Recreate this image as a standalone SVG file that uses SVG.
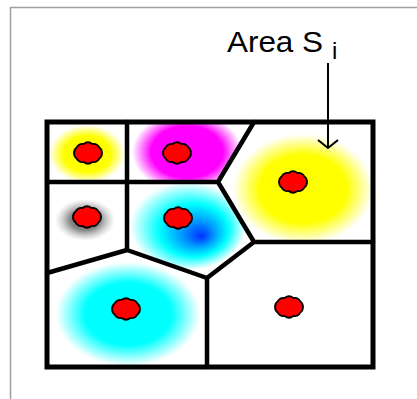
<svg xmlns="http://www.w3.org/2000/svg" width="417" height="399" viewBox="0 0 417 399">
<style>
.frame{fill:none;stroke:#a0a0a0;stroke-width:1.5}
.cellline{fill:none;stroke:#000;stroke-width:4.5;stroke-linejoin:round;stroke-linecap:round}
.outer{fill:none;stroke:#000;stroke-width:5}
.dot{fill:#ff0000;stroke:#000;stroke-width:1.8}
.label{font-family:"Liberation Sans",Arial,sans-serif;fill:#000}
.arrow{fill:none;stroke:#000;stroke-width:2}
</style>
<defs>
<path id="dotshape" d="M14,0 A7,7 0 0 1 11.33,5.59 A7,7 0 0 1 4.33,9.03 A7,7 0 0 1 -4.33,9.03 A7,7 0 0 1 -11.33,5.59 A7,7 0 0 1 -14,0 A7,7 0 0 1 -11.33,-5.59 A7,7 0 0 1 -4.33,-9.03 A7,7 0 0 1 4.33,-9.03 A7,7 0 0 1 11.33,-5.59 A7,7 0 0 1 14,0 Z"/>
<radialGradient id="gYellow">
<stop offset="0" stop-color="#ffff00"/>
<stop offset="0.62" stop-color="#ffff00"/>
<stop offset="1" stop-color="#ffff00" stop-opacity="0"/>
</radialGradient>
<radialGradient id="gMagenta">
<stop offset="0" stop-color="#ff00ff"/>
<stop offset="0.65" stop-color="#ff00ff"/>
<stop offset="1" stop-color="#ff00ff" stop-opacity="0"/>
</radialGradient>
<radialGradient id="gCyan">
<stop offset="0" stop-color="#00ffff"/>
<stop offset="0.6" stop-color="#00ffff"/>
<stop offset="1" stop-color="#00ffff" stop-opacity="0"/>
</radialGradient>
<radialGradient id="gBlue" fx="0.62" fy="0.62">
<stop offset="0" stop-color="#0030ff"/>
<stop offset="0.3" stop-color="#00a0ff"/>
<stop offset="0.6" stop-color="#00ffff"/>
<stop offset="1" stop-color="#00ffff" stop-opacity="0"/>
</radialGradient>
<radialGradient id="gGray">
<stop offset="0" stop-color="#555555"/>
<stop offset="0.5" stop-color="#888888"/>
<stop offset="1" stop-color="#bbbbbb" stop-opacity="0"/>
</radialGradient>
<clipPath id="cA"><polygon points="47,122 127,122 127,182 47,182"/></clipPath>
<clipPath id="cB"><polygon points="127,122 254,122 218,182 127,182"/></clipPath>
<clipPath id="cC"><polygon points="254,122 373,122 373,242 254,242 218,182"/></clipPath>
<clipPath id="cD"><polygon points="47,182 127,182 127,250 47,273"/></clipPath>
<clipPath id="cE"><polygon points="127,182 218,182 254,242 207,278 127,250"/></clipPath>
<clipPath id="cF"><polygon points="47,273 127,250 207,278 207,367 47,367"/></clipPath>
</defs>
<rect x="0" y="0" width="417" height="399" fill="#fff"/>
<path class="frame" d="M10.5,399 V7.5 H417"/>

<g id="cell-a">
<ellipse cx="87" cy="154" rx="38" ry="29" fill="url(#gYellow)" clip-path="url(#cA)"/>
<use href="#dotshape" class="dot" transform="translate(88,153)"/>
</g>
<g id="cell-b">
<ellipse cx="187" cy="152" rx="55" ry="40" fill="url(#gMagenta)" clip-path="url(#cB)"/>
<use href="#dotshape" class="dot" transform="translate(177,153)"/>
</g>
<g id="cell-c">
<ellipse cx="303" cy="189" rx="70" ry="55" fill="url(#gYellow)" clip-path="url(#cC)"/>
<use href="#dotshape" class="dot" transform="translate(293,182)"/>
</g>
<g id="cell-d">
<ellipse cx="85" cy="220" rx="30" ry="21" fill="url(#gGray)" clip-path="url(#cD)"/>
<use href="#dotshape" class="dot" transform="translate(87,217)"/>
</g>
<g id="cell-e">
<ellipse cx="188" cy="226" rx="58" ry="44" fill="url(#gBlue)" clip-path="url(#cE)"/>
<use href="#dotshape" class="dot" transform="translate(178,218)"/>
</g>
<g id="cell-f">
<ellipse cx="128" cy="314" rx="72" ry="52" fill="url(#gCyan)" clip-path="url(#cF)"/>
<use href="#dotshape" class="dot" transform="translate(126,309)"/>
</g>
<g id="cell-g">
<use href="#dotshape" class="dot" transform="translate(289,307)"/>
</g>

<g id="connectors">
<path class="cellline" d="M127,122 V250 M47,182 H218 M254,122 L218,182 L254,242 H373 M254,242 L207,278 V367 M47,273 L127,250 L207,278"/>
<rect class="outer" x="47" y="122" width="326" height="245"/>
<path class="arrow" d="M328,63 V148 M318,140 L328,148 L338,140"/>
</g>

<g id="label">
<text class="label" x="227" y="52" font-size="30" textLength="96" lengthAdjust="spacingAndGlyphs">Area S</text>
<text class="label" x="332" y="59" font-size="24">i</text>
</g>
</svg>
